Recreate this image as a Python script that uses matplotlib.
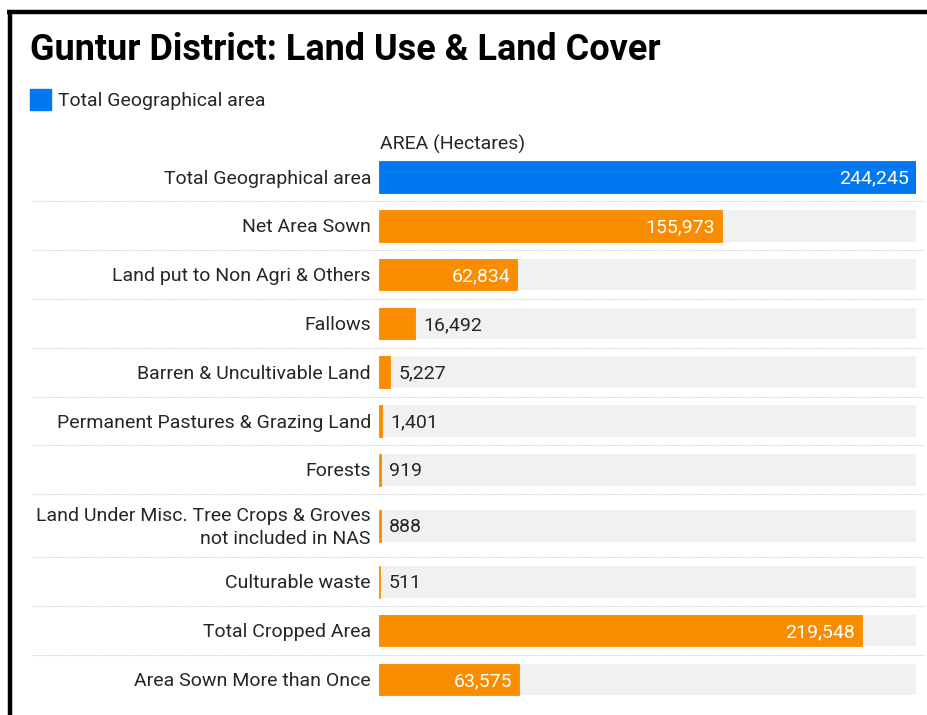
import matplotlib
matplotlib.use("Agg")
import matplotlib.pyplot as plt
from matplotlib.lines import Line2D
from matplotlib.patches import Rectangle

plt.rcParams['font.family'] = ['Roboto', 'DejaVu Sans']

# ---- data ----
categories = [
    "Total Geographical area",
    "Net Area Sown",
    "Land put to Non Agri & Others",
    "Fallows",
    "Barren & Uncultivable Land",
    "Permanent Pastures & Grazing Land",
    "Forests",
    "Land Under Misc. Tree Crops & Groves\nnot included in NAS",
    "Culturable waste",
    "Total Cropped Area",
    "Area Sown More than Once",
]
values = [244245, 155973, 62834, 16492, 5227, 1401, 919, 888, 511, 219548, 63575]
highlight = ["Total Geographical area"]

title = "Guntur District: Land Use & Land Cover"
legend_label = "Total Geographical area"
axis_label = "AREA (Hectares)"

# ---- style ----
W, H = 927, 715
BLUE = "#0078f0"
ORANGE = "#fa8c00"
TRACK = "#f1f1f1"
TXT = "#262626"
FS = 14

fig = plt.figure(figsize=(W / 100, H / 100), dpi=100)
fig.patch.set_facecolor("white")

def fx(x):
    return x / W

def fy(y):
    return 1 - y / H

# frame lines
fig.add_artist(Line2D([fx(7), fx(927)], [fy(11.5), fy(11.5)], color="black", lw=3.2,
                      transform=fig.transFigure, solid_capstyle="butt"))
fig.add_artist(Line2D([fx(9.5), fx(9.5)], [fy(10), fy(715)], color="black", lw=3.2,
                      transform=fig.transFigure, solid_capstyle="butt"))

# title
fig.text(fx(30), fy(50.5), title, fontsize=25.9, fontweight="bold", color="black",
         ha="left", va="center")

# legend
fig.add_artist(Rectangle((fx(30), fy(110)), 21 / W, 21 / H, color=BLUE,
                         transform=fig.transFigure))
fig.text(fx(58), fy(100.5), legend_label, fontsize=FS, color=TXT, ha="left", va="center")

# axis label
fig.text(fx(380), fy(144.5), axis_label, fontsize=FS, color=TXT, ha="left", va="center")

# bar axes: x in data, y in pixel units
x0, x1 = 379, 916
ax = fig.add_axes([fx(x0), 0, (x1 - x0) / W, 1])
ax.set_xlim(0, max(values))
ax.set_ylim(H, 0)
ax.axis("off")

row_h = 48.8
extra = 14.4
top = 152.6
bar_h = 31.5
vmax = max(values)
dy = 1.5

fig.canvas.draw()
renderer = fig.canvas.get_renderer()

y = top
for i, (cat, v) in enumerate(zip(categories, values)):
    h = row_h + (extra if "\n" in cat else 0)
    c = y + h / 2
    ax.barh(c, vmax, height=bar_h, color=TRACK, left=0)
    col = BLUE if cat in highlight else ORANGE
    ax.barh(c, v, height=bar_h, color=col, left=0, edgecolor=col, linewidth=0.6)
    # category label
    fig.text(fx(371), fy(c + dy), cat, fontsize=FS, color=TXT, ha="right", va="center",
             linespacing=1.34, multialignment="right")
    # value label
    s = f"{v:,}"
    t = ax.text(v, c + dy, s, fontsize=FS, color="white", ha="right", va="center")
    tw = t.get_window_extent(renderer=renderer).width
    bar_px = v / vmax * (x1 - x0)
    if bar_px > tw + 16:
        t.set_position((v - vmax * 7 / (x1 - x0), c + dy))
    else:
        t.set_position((v + vmax * 8 / (x1 - x0), c + dy))
        t.set_ha("left")
        t.set_color(TXT)
    y += h
    if i < len(categories) - 1:
        fig.add_artist(Line2D([fx(33), fx(924)], [fy(y), fy(y)], color="#c8c8c8", lw=0.8,
                              linestyle=(0, (1, 1.2)), transform=fig.transFigure))

fig.savefig("out.png", dpi=100)
